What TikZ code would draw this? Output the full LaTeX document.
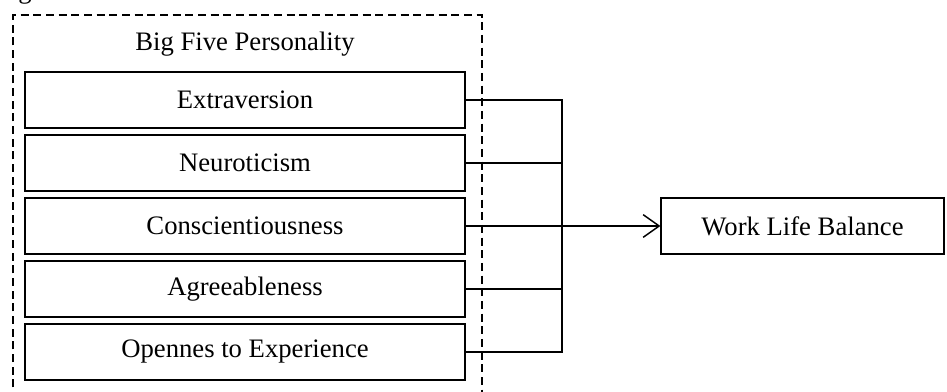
\documentclass[tikz,border=0pt]{standalone}
\usepackage{fontspec}
\setmainfont{Liberation Serif}
\usetikzlibrary{arrows.meta}
\begin{document}
\begin{tikzpicture}[x=0.75pt,y=-0.75pt,
  every node/.style={font=\fontsize{20}{24}\selectfont},
  factor/.style={draw,line width=1.1pt,minimum width=330pt,minimum height=42pt,inner sep=0pt},
  outcome/.style={draw,line width=1.1pt,minimum width=212pt,minimum height=42pt,inner sep=0pt},
  link/.style={line width=1.1pt},
  arr/.style={line width=1.1pt,-{Straight Barb[length=12pt,width=17pt,line width=1.1pt]}},
  group/.style={dashed,line width=1.1pt,dash pattern=on 6pt off 3.5pt}]
\useasboundingbox (0,0) rectangle (947,392);
\clip (0,0) rectangle (947,392);
\node[anchor=base] (frag) at (25,-1) {g};
\draw[group] (13,400) -- (13,15) -- (482,15) -- (482,400);
\node (title) at (245,44) {Big Five Personality};
\node[factor] (b1) at (245,100) {Extraversion};
\node[factor] (b2) at (245,163) {Neuroticism};
\node[factor] (b3) at (245,226) {Conscientiousness};
\node[factor] (b4) at (245,289) {Agreeableness};
\node[factor] (b5) at (245,352) {Opennes to Experience};
\node[outcome] (wlb) at (802.5,226) {Work Life Balance};
\coordinate (trunk) at (562,0);
\draw[link] (b1.east) -- (b1.east -| trunk) -- (b5.east -| trunk) -- (b5.east);
\draw[link] (b2.east) -- (b2.east -| trunk);
\draw[link] (b4.east) -- (b4.east -| trunk);
\draw[arr] (b3.east) -- (wlb.west);
\end{tikzpicture}
\end{document}
